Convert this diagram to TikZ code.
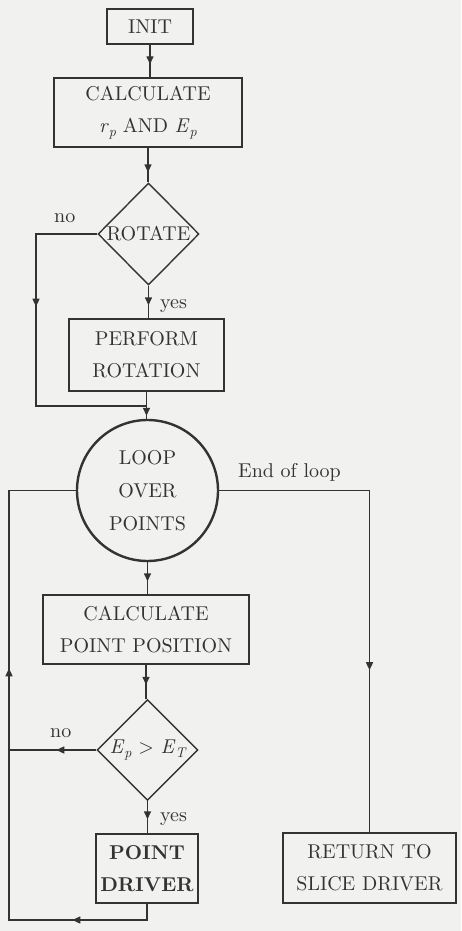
\documentclass[tikz,border=0pt]{standalone}
\usepackage{fontspec}
\setmainfont{lmroman10-regular}[Extension=.otf, BoldFont=lmroman10-bold, ItalicFont=lmroman10-italic, BoldItalicFont=lmroman10-bolditalic]
\usetikzlibrary{shapes.geometric,decorations.markings,arrows.meta}
\definecolor{ink}{HTML}{333333}
\definecolor{paper}{HTML}{F1F1EF}
\newcommand\lsub[1]{\raisebox{-4.5pt}{\fontsize{14}{14}\selectfont\itshape #1}}
\newcommand\vari[2]{{\itshape #1\/}\lsub{#2}}
\begin{document}
\begin{tikzpicture}[x=1pt,y=-1pt,
  every node/.style={font=\fontsize{20}{32}\selectfont, text=ink},
  box/.style={draw=ink, line width=1.4pt, rectangle, inner sep=0pt, align=center},
  dia/.style={draw=ink, line width=1.4pt, diamond, inner sep=0pt, minimum width=101pt, minimum height=102pt},
  con/.style={draw=ink, line width=1.4pt},
  midtip/.style={postaction={decorate}, decoration={markings, mark=at position #1 with {\arrow[ink]{Triangle[length=8pt,width=7pt]}}}},
  twotips/.style 2 args={postaction={decorate}, decoration={markings,
      mark=at position #1 with {\arrow[ink]{Triangle[length=8pt,width=7pt]}},
      mark=at position #2 with {\arrow[ink]{Triangle[length=8pt,width=7pt]}}}},
]
\fill[paper] (0,0) rectangle (461,931);
\useasboundingbox (0,0) rectangle (461,931);

% nodes
\node[box, minimum width=86pt, minimum height=35pt] (init) at (150,26.5) {INIT};
\node[box, minimum width=188pt, minimum height=69pt] (calc) at (148,112.5) {CALCULATE\\\vari{r}{p} AND \vari{E}{p}};
\node[dia, label=center:ROTATE] (rot) at (148.5,234) {};
\node[box, minimum width=155pt, minimum height=72pt] (perf) at (146.5,355) {PERFORM\\ROTATION};
\node[circle, draw=ink, line width=2.4pt, minimum size=141pt, inner sep=0pt, align=center] (loop) at (147.5,490.5) {LOOP\\[1pt]OVER\\[1pt]POINTS};
\node[box, minimum width=206pt, minimum height=69pt] (cpp) at (146,629.5) {CALCULATE\\POINT POSITION};
\node[dia, minimum width=101pt, minimum height=101pt, label=center:{\vari{E}{p} > \vari{E}{T}}] (cmp) at (147.5,750) {};
\node[box, minimum width=102pt, minimum height=69pt, font=\fontsize{20}{32}\selectfont\bfseries] (pd) at (147,868.5) {POINT\\DRIVER};
\node[box, minimum width=173pt, minimum height=70pt] (ret) at (369.5,868) {RETURN TO\\SLICE DRIVER};

% labels
\node[anchor=base west, inner sep=0pt] (no1) at (54,222) {no};
\node[anchor=base west, inner sep=0pt] (yes1) at (160,308) {yes};
\node[anchor=base west, inner sep=0pt] (eol) at (238,477) {End of loop};
\node[anchor=base west, inner sep=0pt] (no2) at (50,737) {no};
\node[anchor=base west, inner sep=0pt] (yes2) at (160,821) {yes};

% coordinates
\coordinate (j1) at (36,406);
\coordinate (lb) at (9,920);

% connectors
\draw[con, midtip=-13pt] (init.south) -- (init.south |- calc.north);
\draw[con, midtip=-10pt] (calc.south) -- (calc.south |- rot.north);
\draw[con, midtip=-13pt] (rot.south) -- (rot.south |- perf.north);
\draw[con, midtip=134pt] (rot.west) -| (j1) -- (j1 -| perf.south);
\draw[con, midtip=-3pt] (perf.south) -- (perf.south |- loop.north);
\draw[con, midtip=-13pt] (loop.south) -- (loop.south |- cpp.north);
\draw[con, midtip=-14pt] (cpp.south) -- (cpp.south |- cmp.north);
\draw[con, midtip=-14pt] (cmp.south) -- (cmp.south |- pd.north);
\draw[con, midtip=40pt] (cmp.west) -- (cmp.west -| lb);
\draw[con, twotips={91pt}{406pt}] (pd.south) -- (pd.south |- lb) -- (lb) |- (loop.west);
\draw[con, midtip=330pt] (loop.east) -| (ret.north);
\end{tikzpicture}
\end{document}
